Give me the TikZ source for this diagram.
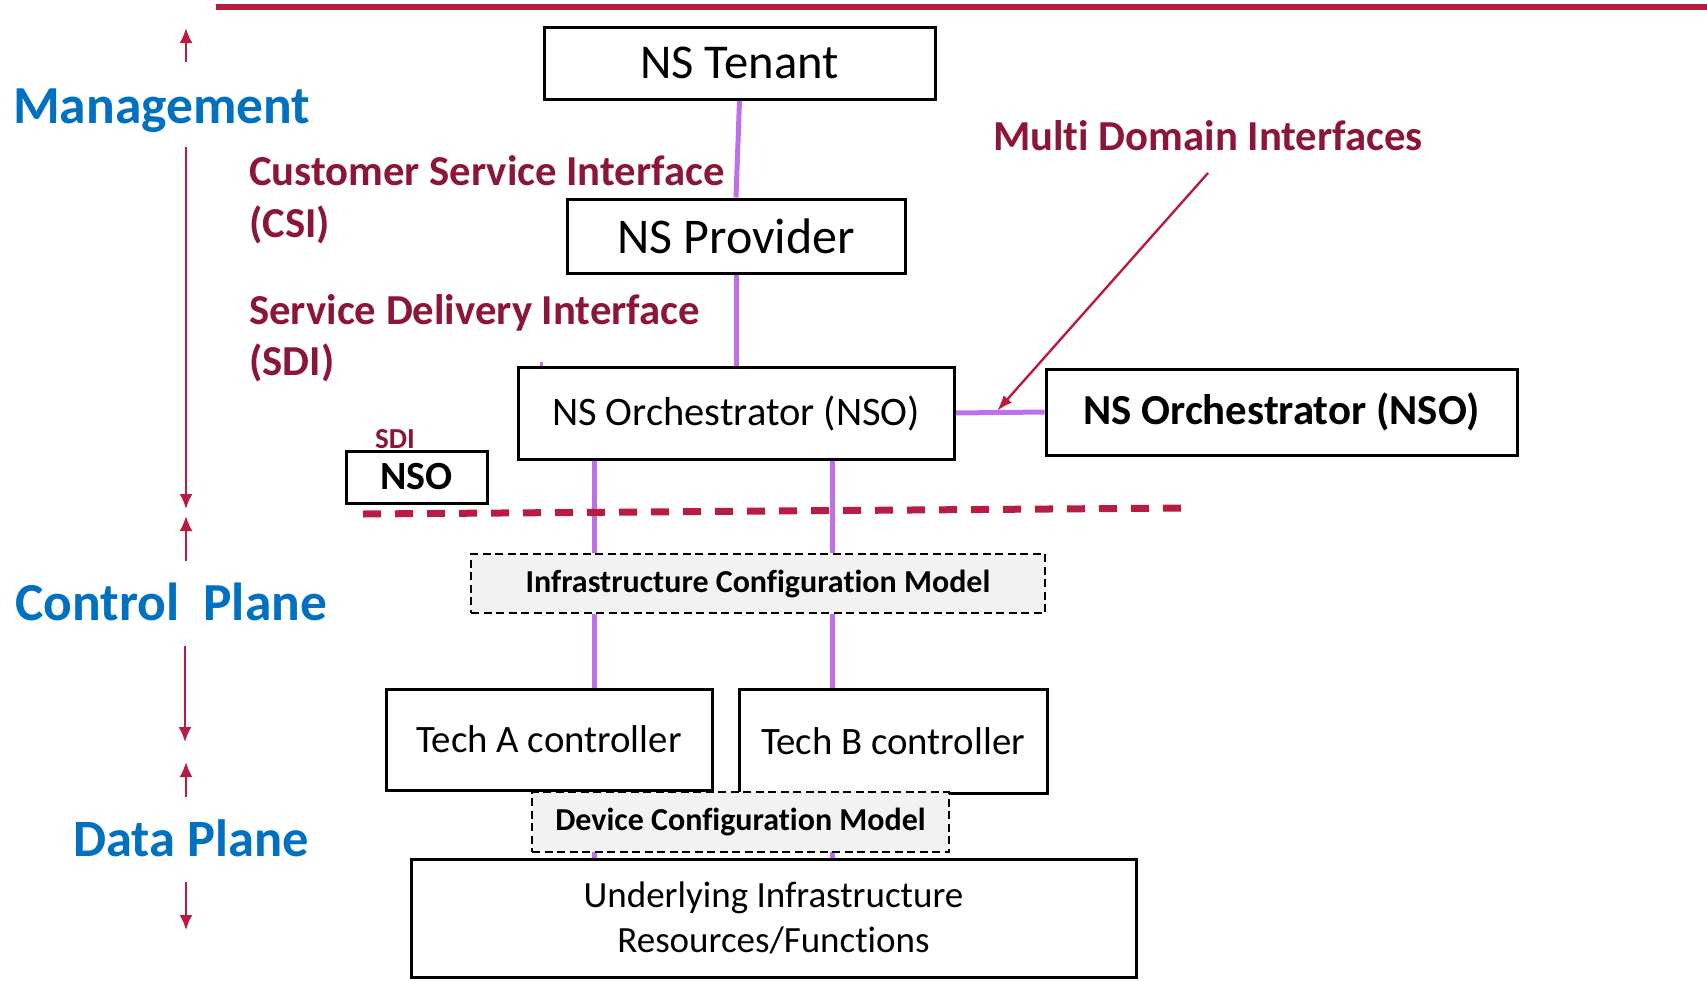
\documentclass[tikz,border=0pt]{standalone}
\usepackage{fontspec}
\setmainfont{Carlito}[RawFeature={-liga}]
\usetikzlibrary{arrows.meta,backgrounds}
\definecolor{mblue}{RGB}{0,112,192}
\definecolor{mred}{RGB}{140,22,56}
\definecolor{lred}{RGB}{185,28,64}
\definecolor{purp}{RGB}{190,112,235}
\definecolor{lgray}{RGB}{242,242,242}
\newcommand\fsz[1]{\fontsize{#1}{#1}\selectfont}
\begin{document}
\begin{tikzpicture}[x=1pt,y=-1pt,
 box/.style={draw=black, line width=3pt, fill=white, inner sep=0pt, text=black, align=center},
 dbox/.style={draw=black, line width=2.7pt, dash pattern=on 8pt off 4.5pt, fill=lgray, inner sep=0pt, font=\bfseries\fsz{32}},
 link/.style={draw=purp, line width=5pt},
 redarrow/.style={draw=lred, line width=2.2pt, -{Latex[length=15pt,width=13pt]}},
 mdarrow/.style={draw=lred, line width=2.4pt, -{Latex[length=16pt,width=11pt]}},
 blabel/.style={text=mblue, font=\bfseries\fsz{53.5}, anchor=base west, inner sep=0pt},
 rlabel/.style={text=mred, font=\bfseries\fsz{42.7}, anchor=base west, inner sep=0pt},
]
\path[use as bounding box] (0,0) rectangle (1707,980);

% top rule
\coordinate (tl) at (216,7);
\coordinate (tr) at (1707,7);
\draw[lred, line width=6pt] (tl) -- (tr);

% boxes
\node[box, minimum width=391pt, minimum height=72pt, font=\fsz{48.6}] (tenant) at (739.5,63) {NS Tenant};
\node[box, minimum width=338pt, minimum height=74pt, font=\fsz{50}] (provider) at (736,236) {NS Provider};
\node[box, minimum width=436pt, minimum height=92pt, font=\fsz{40.5}] (nso) at (736,413) {NS Orchestrator (NSO)};
\node[box, minimum width=471pt, minimum height=86pt, font=\bfseries\fsz{42.8}] (nso2) at (1281.5,412) {NS Orchestrator (NSO)};
\node[box, minimum width=141pt, minimum height=52pt, font=\bfseries\fsz{40}] (nsos) at (416.5,477) {NSO};
\node[dbox, minimum width=574pt, minimum height=59pt] (icm) at (758,583.5) {Infrastructure Configuration Model};
\node[box, minimum width=326pt, minimum height=101pt, font=\fsz{38.8}] (techa) at (549,739.5) {Tech A controller};
\node[box, minimum width=308pt, minimum height=104pt, font=\fsz{38.8}] (techb) at (893,741) {Tech B controller};
\node[box, minimum width=725pt, minimum height=118pt, font=\fontsize{37}{45}\selectfont] (under) at (773.5,918) {Underlying Infrastructure\\Resources/Functions};
\node[dbox, minimum width=417pt, minimum height=60pt] (dcm) at (740.5,822) {Device Configuration Model};

% purple links behind boxes
\coordinate (la) at (594,0);
\coordinate (lb) at (832,0);
\coordinate (stub) at (541,362);
\begin{pgfonlayer}{background}
\draw[link] (tenant.south) -- (provider.north);
\draw[link] (provider.south) -- (nso.north);
\draw[link] (nso.east) -- (nso2.west);
\draw[link] (nso.south -| la) -- (icm.north -| la);
\draw[link] (icm.south -| la) -- (techa.north -| la);
\draw[link] (techa.south -| la) -- (under.north -| la);
\draw[link] (nso.south -| lb) -- (icm.north -| lb);
\draw[link] (icm.south -| lb) -- (techb.north -| lb);
\draw[link] (techb.south -| lb) -- (under.north -| lb);
\draw[draw=purp, line width=3pt] (stub) -- (nso.north -| stub);
\end{pgfonlayer}

% dashed boundary
\coordinate (dl) at (363,514);
\coordinate (dr) at (1185,508);
\draw[lred, line width=7pt, dash pattern=on 18pt off 14pt] (dl) -- (dr);

% labels
\node[blabel] (mg) at (13,123) {Management};
\node[blabel] (cp) at (15,620) {Control\ \ Plane};
\node[blabel, font=\bfseries\fsz{52.5}] (dp) at (73,856) {Data Plane};

\node[rlabel] (csi) at (249,185) {Customer Service Interface};
\node[rlabel] (csi2) at (249,237) {(CSI)};
\node[rlabel] (sdi) at (249,324) {Service Delivery Interface};
\node[rlabel] (sdi2) at (249,375) {(SDI)};
\node[rlabel] (mdi) at (993,150) {Multi Domain Interfaces};
\node[rlabel, font=\bfseries\fsz{29}] (sdis) at (375,448) {SDI};

% multi domain arrow
\coordinate (mds) at (1208,173);
\coordinate (mdt) at (997,411);
\draw[mdarrow] (mds) -- (mdt);

% left range arrows
\coordinate (a1s) at (186,62);  \coordinate (a1t) at (186,28);
\coordinate (a2s) at (186,147); \coordinate (a2t) at (186,509);
\coordinate (a3s) at (186,561); \coordinate (a3t) at (186,516);
\coordinate (a4s) at (185,646); \coordinate (a4t) at (185,742);
\coordinate (a5s) at (186,797); \coordinate (a5t) at (186,762);
\coordinate (a6s) at (186,882); \coordinate (a6t) at (186,930);
\foreach \i in {1,...,6} \draw[redarrow] (a\i s) -- (a\i t);
\end{tikzpicture}
\end{document}
